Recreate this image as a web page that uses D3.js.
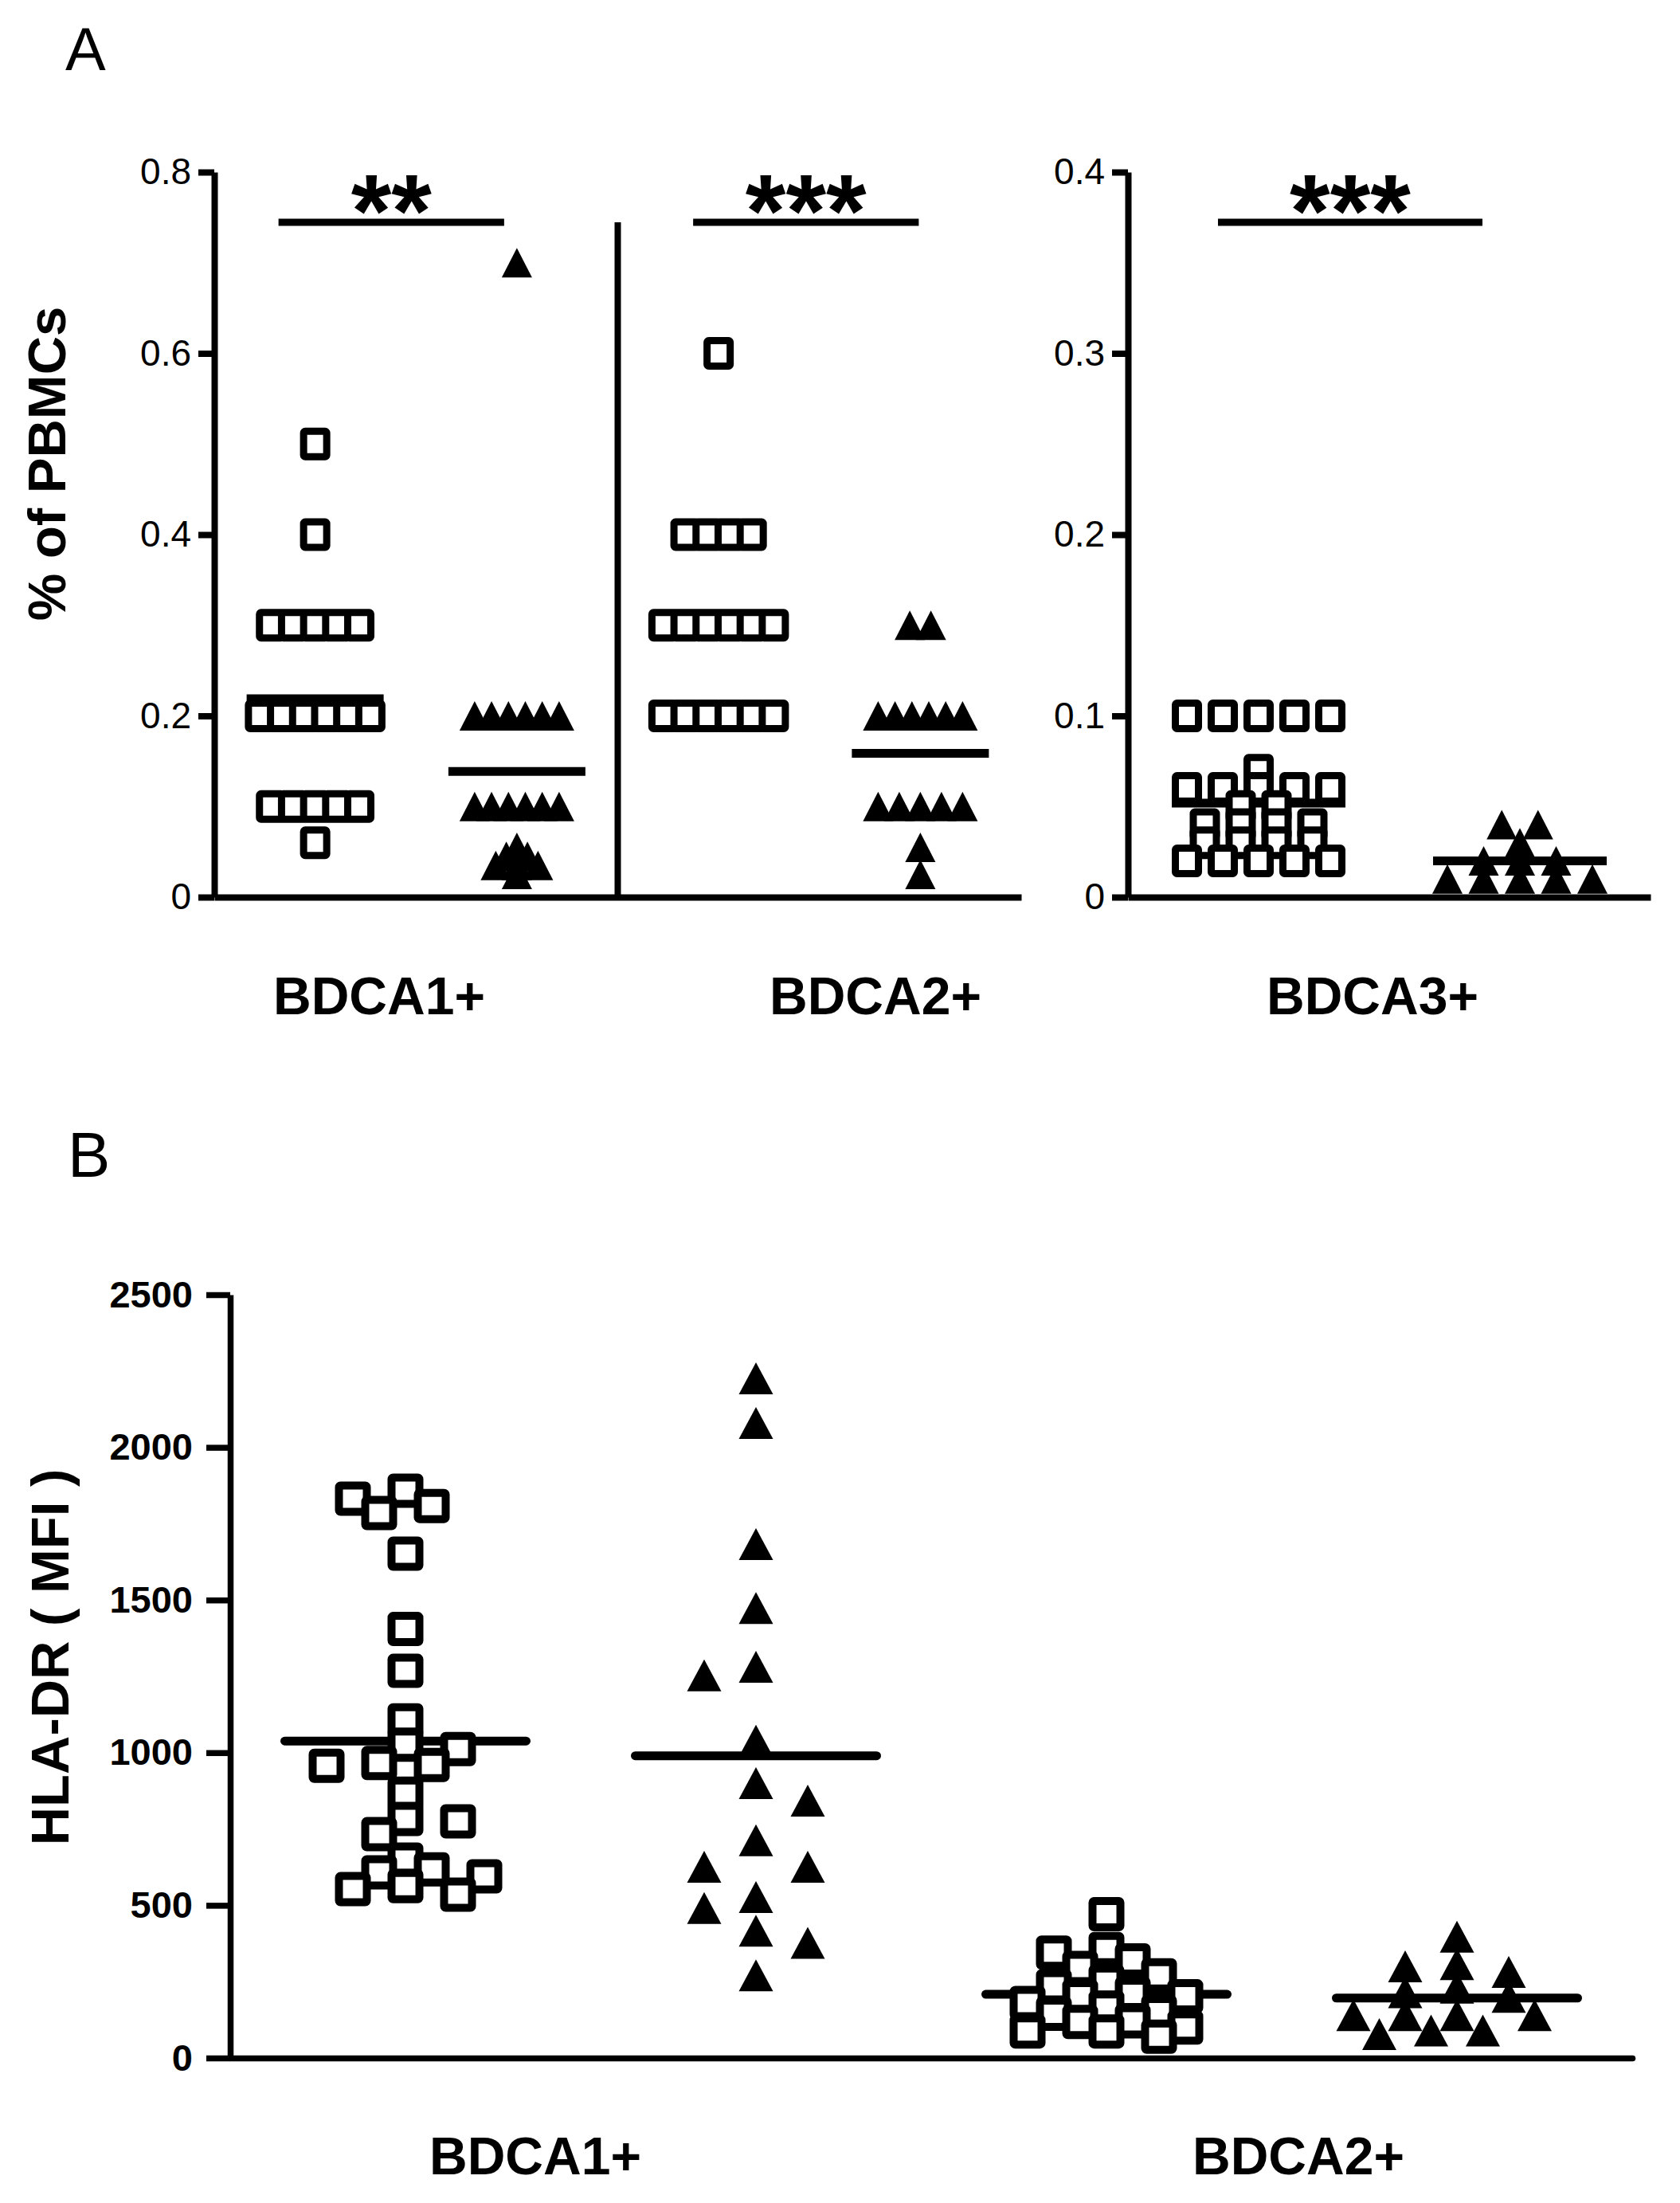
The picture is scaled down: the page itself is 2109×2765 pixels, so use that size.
<!DOCTYPE html>
<html>
<head>
<meta charset="utf-8">
<script src="https://cdn.jsdelivr.net/npm/d3@7"></script>
<style>
  body { margin: 0; background: #fff; }
  svg { display: block; }
  text { font-family: "Liberation Sans", Arial, sans-serif; fill: #000; }
</style>
</head>
<body>
<svg id="chart"></svg>
<script>
// ---- data ----
// Panel A: % of PBMCs. open squares = first group, filled triangles = second group
let a1Squares   = [0.5, 0.4, 0.3, 0.3, 0.3, 0.3, 0.3, 0.2, 0.2, 0.2, 0.2, 0.2, 0.2, 0.1, 0.1, 0.1, 0.1, 0.1, 0.06];
let a1Triangles = [0.7, 0.2, 0.2, 0.2, 0.2, 0.2, 0.2, 0.1, 0.1, 0.1, 0.1, 0.1, 0.1, 0.055, 0.045, 0.045, 0.035, 0.035, 0.035, 0.025];
let a2Squares   = [0.6, 0.4, 0.4, 0.4, 0.4, 0.3, 0.3, 0.3, 0.3, 0.3, 0.3, 0.2, 0.2, 0.2, 0.2, 0.2, 0.2];
let a2Triangles = [0.3, 0.3, 0.2, 0.2, 0.2, 0.2, 0.2, 0.2, 0.1, 0.1, 0.1, 0.1, 0.1, 0.055, 0.025];
let a3Squares   = [0.1, 0.1, 0.1, 0.1, 0.1, 0.07, 0.06, 0.06, 0.06, 0.06, 0.06, 0.05, 0.05,
                   0.04, 0.04, 0.04, 0.04, 0.03, 0.03, 0.03, 0.03, 0.02, 0.02, 0.02, 0.02, 0.02];
let a3Triangles = [0.04, 0.04, 0.03, 0.02, 0.02, 0.02, 0.01, 0.01, 0.01, 0.01, 0.01];

// Panel B: HLA-DR (MFI)
let b1Squares   = [1858, 1832, 1808, 1785, 1652, 1405, 1268, 1106, 1026, 1012, 966, 960, 957, 866,
                   783, 775, 733, 650, 618, 608, 595, 563, 553, 535];
let b1Triangles = [2226, 2080, 1683, 1474, 1281, 1253, 1039, 900, 843, 713, 626, 626, 527, 491, 417, 377, 271];
let b2Squares   = [471, 357, 345, 320, 295, 271, 250, 235, 210, 202, 202, 180, 165, 150, 145, 120, 118, 100, 87, 87, 70];
let b2Triangles = [397, 307, 300, 282, 230, 215, 200, 140, 140, 140, 140, 90, 90, 78];

let aLeftGroups = ["1sq", "1tri", "2sq", "2tri"];
let aRightGroups = ["3sq", "3tri"];
let bGroups = ["1sq", "1tri", "2sq", "2tri"];

let aLeftTicks = [0, 0.2, 0.4, 0.6, 0.8];
let aRightTicks = [0, 0.1, 0.2, 0.3, 0.4];
let bTicks = [0, 500, 1000, 1500, 2000, 2500];

let aLabels = ["BDCA1+", "BDCA2+", "BDCA3+"];
let bLabels = ["BDCA1+", "BDCA2+"];
let sigStars = ["**", "***", "***"];

// ---- layout ----
let width = 2109;
let height = 2765;

let svg = d3.select("#chart")
            .attr("width", width)
            .attr("height", height);

let yA = d3.scaleLinear().domain([0, 0.8]).range([1126, 216]);
let yA3 = d3.scaleLinear().domain([0, 0.4]).range([1126, 216]);
let xA = d3.scaleBand().domain(aLeftGroups).range([269, 1282]);
let xA3 = d3.scaleBand().domain(aRightGroups).range([1416, 2072]);

let yB = d3.scaleLinear().domain([0, 2500]).range([2583, 1625]);
let xB = d3.scaleBand().domain(bGroups).range([289, 2049]);

let fmtA = d => d === 0 ? "0" : d3.format(".1f")(d);

// points with the same value sit side by side in a row (panel A style)
let rowLayout = (values, step, maxSpan) => {
  let counts = d3.rollup(values, v => v.length, v => v);
  let seen = new Map();
  return values.map(v => {
    let n = counts.get(v);
    let i = seen.get(v) || 0;
    seen.set(v, i + 1);
    let s = (maxSpan && n > 1) ? Math.min(step, maxSpan / (n - 1)) : step;
    return {v: v, off: (i - (n - 1) / 2) * s};
  });
};

// column swarm (panel B style): same column needs vSame px of clearance,
// neighbouring column needs vAdj px; sides are filled in turn
let swarmLayout = (values, yScale, step, vSame, vAdj) => {
  let placed = [];
  values.slice().sort((a, b) => b - a).forEach(v => {
    let y = yScale(v);
    let free = k => !placed.some(p => {
      let dk = Math.abs(p.k - k), dy = Math.abs(p.y - y);
      return (dk === 0 && dy < vSame) || (dk === 1 && dy < vAdj);
    });
    let left = placed.filter(p => p.k < 0).length;
    let right = placed.filter(p => p.k > 0).length;
    let sign = right < left ? 1 : -1;
    let k = 0;
    for (let r = 0; r < 15; r++) {
      if (r === 0) { if (free(0)) { k = 0; break; } continue; }
      if (free(sign * r)) { k = sign * r; break; }
      if (free(-sign * r)) { k = -sign * r; break; }
    }
    placed.push({v: v, y: y, k: k});
  });
  return placed.map(p => ({v: p.v, off: p.k * step}));
};

let drawYAxis = (scale, x, ticks, fmt, opts) => {
  let g = svg.append("g")
     .attr("transform", "translate(" + x + ",0)")
     .call(d3.axisLeft(scale).tickValues(ticks).tickFormat(fmt)
            .tickSizeInner(opts.tick).tickSizeOuter(0).tickPadding(opts.pad));
  g.selectAll("path, line").attr("stroke", "#000").attr("stroke-width", opts.sw);
  g.selectAll("text")
   .style("font-family", '"Liberation Sans", Arial, sans-serif')
   .style("font-size", opts.fs + "px")
   .style("font-weight", opts.fw)
   .attr("fill", "#000");
  return g;
};

let drawBaseline = (scale, y, sw, cap) => {
  let g = svg.append("g")
     .attr("transform", "translate(0," + y + ")")
     .call(d3.axisBottom(scale).tickSizeInner(0).tickSizeOuter(0).tickFormat(() => ""));
  g.selectAll(".tick").remove();
  g.select("path").attr("stroke", "#000").attr("stroke-width", sw).attr("stroke-linecap", cap);
};

let drawGroup = (layout, cx, yScale, shape, st) => {
  // mean line first, markers on top
  let m = d3.mean(layout, d => d.v);
  svg.append("line")
     .attr("x1", cx - st.lineW / 2).attr("x2", cx + st.lineW / 2)
     .attr("y1", yScale(m)).attr("y2", yScale(m))
     .attr("stroke", "#000").attr("stroke-width", st.lineSw)
     .attr("stroke-linecap", st.cap);

  let g = svg.append("g");
  if (shape === "square") {
    g.selectAll("rect").data(layout).enter().append("rect")
     .attr("x", d => cx + d.off - (st.sqW - st.sqSw) / 2)
     .attr("y", d => yScale(d.v) - (st.sqH - st.sqSw) / 2)
     .attr("width", st.sqW - st.sqSw)
     .attr("height", st.sqH - st.sqSw)
     .attr("rx", 2)
     .attr("fill", "#fff")
     .attr("stroke", "#000")
     .attr("stroke-width", st.sqSw);
  } else {
    g.selectAll("path").data(layout).enter().append("path")
     .attr("d", d => {
       let x = cx + d.off, y = yScale(d.v);
       return "M" + (x - st.triW / 2) + "," + (y + st.triH / 2) +
              "L" + x + "," + (y - st.triH / 2) +
              "L" + (x + st.triW / 2) + "," + (y + st.triH / 2) + "Z";
     })
     .attr("fill", "#000");
  }
};

let styleA = {lineW: 172, lineSw: 11, cap: "butt", sqW: 38, sqH: 41, sqSw: 9, triW: 38, triH: 37};
let styleA3 = Object.assign({}, styleA, {lineW: 218});
let styleB = {lineW: 303, lineSw: 11, cap: "round", sqW: 45, sqH: 43, sqSw: 10, triW: 43, triH: 40};

// ---- panel A ----
svg.append("text").attr("x", 82).attr("y", 88)
   .style("font-size", "76px").text("A");

drawBaseline(xA, 1126, 8, "butt");
drawBaseline(xA3, 1126, 8, "butt");
drawYAxis(yA, 269, aLeftTicks, fmtA, {tick: 20, pad: 9, sw: 8, fs: 46, fw: "normal"});
drawYAxis(yA3, 1416, aRightTicks, fmtA, {tick: 20, pad: 9, sw: 8, fs: 46, fw: "normal"});

// divider between BDCA1+ and BDCA2+
let sigY = 279;
svg.append("line")
   .attr("x1", xA("2sq")).attr("x2", xA("2sq"))
   .attr("y1", sigY).attr("y2", yA(0))
   .attr("stroke", "#000").attr("stroke-width", 8);

let centerA = k => xA(k) + xA.bandwidth() / 2;
let centerA3 = k => xA3(k) + xA3.bandwidth() / 2;

drawGroup(rowLayout(a1Squares, 27.7), centerA("1sq"), yA, "square", styleA);
drawGroup(rowLayout(a1Triangles, 26.5, 106), centerA("1tri"), yA, "tri", styleA);
drawGroup(rowLayout(a2Squares, 27.7), centerA("2sq"), yA, "square", styleA);
drawGroup(rowLayout(a2Triangles, 26.5, 106), centerA("2tri"), yA, "tri", styleA);
drawGroup(rowLayout(a3Squares, 45), centerA3("3sq"), yA3, "square", styleA3);
drawGroup(rowLayout(a3Triangles, 45.5), centerA3("3tri"), yA3, "tri", styleA3);

// significance bars
let sigBars = [
  {x1: centerA("1sq") - 46, x2: centerA("1tri") - 16},
  {x1: centerA("2sq") - 32, x2: centerA("2tri") - 2},
  {x1: centerA3("3sq") - 51, x2: centerA3("3tri") - 47}
];
sigBars.forEach((b, i) => {
  svg.append("line")
     .attr("x1", b.x1).attr("x2", b.x2)
     .attr("y1", sigY).attr("y2", sigY)
     .attr("stroke", "#000").attr("stroke-width", 9);
  svg.append("text")
     .attr("x", (b.x1 + b.x2) / 2).attr("y", 310)
     .attr("text-anchor", "middle")
     .style("font-size", "130px").style("font-weight", "bold")
     .text(sigStars[i]);
});

svg.append("text")
   .attr("transform", "translate(82,582) rotate(-90)")
   .attr("text-anchor", "middle")
   .style("font-size", "67px").style("font-weight", "bold")
   .text("% of PBMCs");

let aLabelX = [476, 1099, 1723];
aLabels.forEach((t, i) => {
  svg.append("text").attr("x", aLabelX[i]).attr("y", 1273)
     .attr("text-anchor", "middle")
     .style("font-size", "66px").style("font-weight", "bold")
     .text(t);
});

// ---- panel B ----
svg.append("text").attr("x", 85).attr("y", 1477)
   .style("font-size", "80px").text("B");

drawBaseline(xB, 2583, 7.5, "round");
drawYAxis(yB, 289, bTicks, d3.format("d"), {tick: 30, pad: 17, sw: 7.5, fs: 47, fw: "bold"});

let centerB = k => xB(k) + xB.bandwidth() / 2;
drawGroup(swarmLayout(b1Squares, yB, 33, 26, 12), centerB("1sq"), yB, "square", styleB);
drawGroup(swarmLayout(b1Triangles, yB, 32.5, 40, 36), centerB("1tri"), yB, "tri", styleB);
drawGroup(swarmLayout(b2Squares, yB, 33, 24, 10), centerB("2sq"), yB, "square", styleB);
drawGroup(swarmLayout(b2Triangles, yB, 32.5, 26, 14), centerB("2tri"), yB, "tri", styleB);

svg.append("text")
   .attr("transform", "translate(86,2080) rotate(-90)")
   .attr("text-anchor", "middle")
   .style("font-size", "67px").style("font-weight", "bold")
   .text("HLA-DR ( MFI )");

let bLabelX = [672, 1630];
bLabels.forEach((t, i) => {
  svg.append("text").attr("x", bLabelX[i]).attr("y", 2729)
     .attr("text-anchor", "middle")
     .style("font-size", "66px").style("font-weight", "bold")
     .text(t);
});
</script>
</body>
</html>
